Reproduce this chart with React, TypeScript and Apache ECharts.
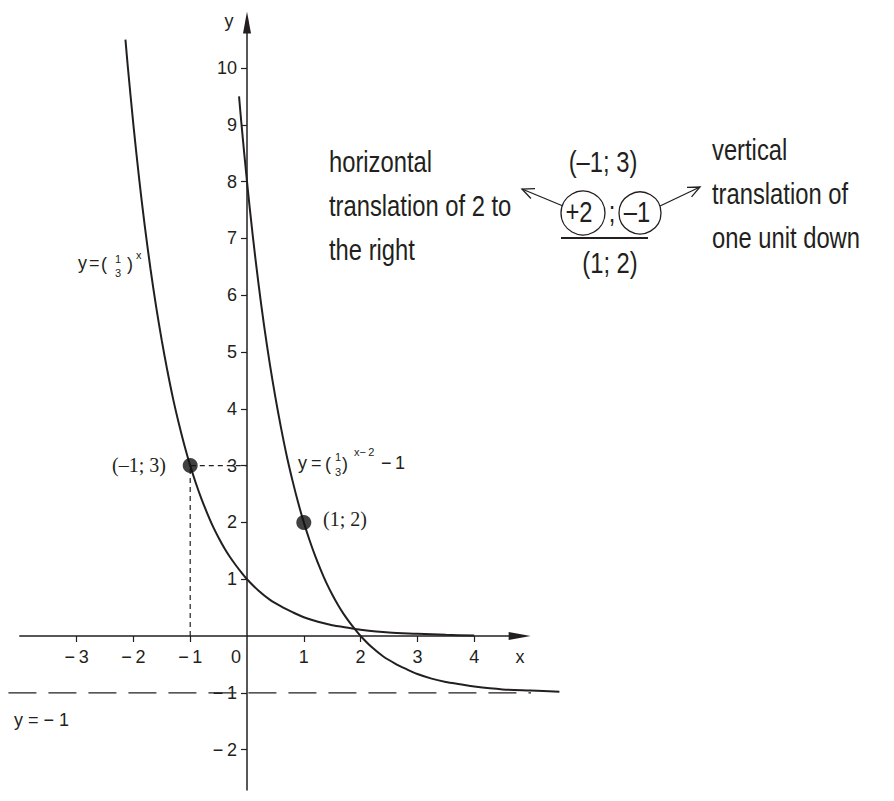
import React, { useEffect, useRef } from 'react';
import * as echarts from 'echarts';

// Tick positions on both axes
const X_TICKS = [-3, -2, -1, 0, 1, 2, 3, 4];
const Y_TICKS = [-2, -1, 1, 2, 3, 4, 5, 6, 7, 8, 9, 10];

// y = (1/3)^x
const BASE_CURVE: [number, number][] = [
  [-2.14, 10.5], [-2.1, 10.04], [-2, 9.0], [-1.9, 8.06], [-1.8, 7.22], [-1.7, 6.47],
  [-1.6, 5.8], [-1.5, 5.2], [-1.4, 4.66], [-1.3, 4.17], [-1.2, 3.74], [-1.1, 3.35],
  [-1, 3.0], [-0.9, 2.69], [-0.8, 2.41], [-0.7, 2.16], [-0.6, 1.93], [-0.5, 1.73],
  [-0.4, 1.55], [-0.3, 1.39], [-0.2, 1.25], [-0.1, 1.12], [0, 1.0], [0.2, 0.8],
  [0.4, 0.64], [0.6, 0.52], [0.8, 0.42], [1, 0.33], [1.25, 0.25], [1.5, 0.19],
  [1.75, 0.15], [2, 0.11], [2.5, 0.06], [3, 0.04], [3.5, 0.02], [4, 0.01],
];

// y = (1/3)^(x-2) - 1
const SHIFTED_CURVE: [number, number][] = [
  [-0.14, 9.5], [-0.1, 9.04], [0, 8.0], [0.1, 7.06], [0.2, 6.22], [0.3, 5.47],
  [0.4, 4.8], [0.5, 4.2], [0.6, 3.66], [0.7, 3.17], [0.8, 2.74], [0.9, 2.35],
  [1, 2.0], [1.1, 1.69], [1.2, 1.41], [1.3, 1.16], [1.4, 0.93], [1.5, 0.73],
  [1.6, 0.55], [1.7, 0.39], [1.8, 0.25], [1.9, 0.12], [2, 0.0], [2.2, -0.2],
  [2.4, -0.36], [2.6, -0.48], [2.8, -0.58], [3, -0.67], [3.25, -0.75], [3.5, -0.81],
  [3.75, -0.85], [4, -0.89], [4.5, -0.94], [5, -0.96], [5.5, -0.98],
];

// Marked points and their projections onto the axes
const MARKED_POINTS: [number, number][] = [[-1, 3], [1, 2]];
const PROJECTION: [number, number][] = [[-1, 0], [-1, 3], [0, 3]];

// Horizontal asymptote y = -1
const ASYMPTOTE: [number, number][] = [[-4.2, -1], [5.0, -1]];

// Visible axis ranges
const X_MIN = -4;
const X_MAX = 4.8;
const Y_MIN = -2.71;
const Y_MAX = 10.8;

// Plotting area for the curves (wider, same scale, no visible axes)
const PX_MIN = -4.3;
const PX_MAX = 5.7;

// Layout: origin position in the page and pixels per unit
const ORIGIN_X = 247;
const ORIGIN_Y = 636;
const UNIT = 56.8;

const INK = '#231f20';
const SANS = "'Liberation Sans', Arial, Helvetica, sans-serif";
const SERIF = "'Liberation Serif', 'Times New Roman', serif";
// narrow lettering: regular sans squeezed horizontally
const NARROW_SCALE = 0.82;

const fmt = (v: number) => (v < 0 ? '\u2212\u2009' + Math.abs(v) : String(v));

function txt(
  text: string,
  x: number,
  y: number,
  font: string,
  align: 'left' | 'center' | 'right' = 'left',
  scaleX = 1
) {
  return {
    type: 'text',
    x,
    y,
    scaleX,
    z: 20,
    style: { text, font, fill: INK, textAlign: align, textVerticalAlign: 'middle' },
  };
}

function arrow(x1: number, y1: number, x2: number, y2: number) {
  const ang = Math.atan2(y2 - y1, x2 - x1);
  const len = 13;
  const spread = 0.42;
  const a = ang + Math.PI - spread;
  const b = ang + Math.PI + spread;
  return [
    {
      type: 'line',
      z: 20,
      shape: { x1, y1, x2, y2 },
      style: { stroke: INK, lineWidth: 1.3 },
    },
    {
      type: 'polyline',
      z: 20,
      shape: {
        points: [
          [x2 + len * Math.cos(a), y2 + len * Math.sin(a)],
          [x2, y2],
          [x2 + len * Math.cos(b), y2 + len * Math.sin(b)],
        ],
      },
      style: { stroke: INK, lineWidth: 1.3, fill: 'none' },
    },
  ];
}

function gridBox(xMin: number, xMax: number, yMin: number, yMax: number) {
  return {
    left: ORIGIN_X + xMin * UNIT,
    top: ORIGIN_Y - yMax * UNIT,
    width: (xMax - xMin) * UNIT,
    height: (yMax - yMin) * UNIT,
    containLabel: false,
    outerBoundsMode: 'none',
  };
}

export default function App() {
  const ref = useRef<HTMLDivElement>(null);

  useEffect(() => {
    if (!ref.current) return;
    const chart = echarts.init(ref.current, null, { renderer: 'svg' });

    const big = `29px ${SANS}`;
    const mainF = `18px ${SANS}`;
    const smallF = `11px ${SANS}`;
    const n = (text: string, x: number, y: number, align: 'left' | 'center' | 'right' = 'left') =>
      txt(text, x, y, big, align, NARROW_SCALE);

    const graphic: any[] = [
      // axis names
      txt('x', 520, 657, mainF, 'center'),
      txt('y', 229, 21, mainF, 'center'),
      txt('y = \u2212 1', 14, 720, mainF),

      // y = (1/3)^x
      txt('y', 78, 263, mainF),
      txt('=', 89, 263, mainF),
      txt('(', 101, 264, mainF),
      txt('1', 118, 259, smallF, 'center'),
      txt('3', 118, 273, smallF, 'center'),
      txt(')', 127, 264, mainF),
      txt('x', 136, 255, smallF),

      // y = (1/3)^(x-2) - 1
      txt('y', 298, 463, mainF),
      txt('=', 311, 463, mainF),
      txt('(', 325, 464, mainF),
      txt('1', 338, 457, smallF, 'center'),
      txt('3', 338, 472, smallF, 'center'),
      txt(')', 342, 464, mainF),
      txt('x\u2212\u20092', 354, 452, smallF),
      txt('\u2212\u20091', 381, 463, mainF),

      // point labels
      txt('(\u20131; 3)', 166, 465, `20px ${SERIF}`, 'right'),
      txt('(1; 2)', 323, 519, `20px ${SERIF}`),

      // translation note
      n('horizontal', 329, 162),
      n('translation of 2 to', 329, 206),
      n('the right', 329, 250),
      n('(\u20131; 3)', 603, 162, 'center'),
      n('+2', 579, 212, 'center'),
      n(';', 612, 212, 'center'),
      n('\u20131', 637, 212, 'center'),
      n('(1; 2)', 610, 263, 'center'),
      n('vertical', 712, 150),
      n('translation of', 712, 194),
      n('one unit down', 712, 238),
      {
        type: 'circle',
        z: 20,
        shape: { cx: 583, cy: 213, r: 22 },
        style: { fill: 'none', stroke: INK, lineWidth: 1.3 },
      },
      {
        type: 'circle',
        z: 20,
        shape: { cx: 640, cy: 213, r: 21 },
        style: { fill: 'none', stroke: INK, lineWidth: 1.3 },
      },
      {
        type: 'line',
        z: 20,
        shape: { x1: 561, y1: 238, x2: 648, y2: 238 },
        style: { stroke: INK, lineWidth: 2 },
      },
      ...arrow(563, 206, 522, 189),
      ...arrow(660, 206, 700, 187),
    ];

    const curveStyle = { color: INK, width: 2 };
    const onPlot = { xAxisIndex: 1, yAxisIndex: 1 };

    chart.setOption({
      animation: false,
      backgroundColor: '#ffffff',
      textStyle: { fontFamily: SANS },
      grid: [gridBox(X_MIN, X_MAX, Y_MIN, Y_MAX), gridBox(PX_MIN, PX_MAX, Y_MIN, Y_MAX)],
      xAxis: [
        {
          type: 'value',
          gridIndex: 0,
          min: X_MIN,
          max: X_MAX,
          position: 'bottom',
          // move the axis up to y = 0
          offset: Y_MIN * UNIT,
          splitLine: { show: false },
          axisLine: {
            onZero: false,
            lineStyle: { color: INK, width: 1.5 },
            symbol: ['none', 'triangle'],
            symbolSize: [8, 22],
          },
          axisTick: {
            show: true,
            inside: false,
            length: 6,
            customValues: X_TICKS.filter((v) => v !== 0),
            lineStyle: { color: INK, width: 1.2 },
          },
          axisLabel: {
            customValues: X_TICKS,
            margin: 12,
            fontSize: 18,
            fontFamily: SANS,
            color: INK,
            formatter: (v: number) => (v === 0 ? '{o|0}' : fmt(v)),
            rich: {
              o: { fontSize: 18, fontFamily: SANS, color: INK, padding: [0, 22, 0, 0] },
            },
          },
        },
        {
          type: 'value',
          gridIndex: 1,
          min: PX_MIN,
          max: PX_MAX,
          show: false,
        },
      ],
      yAxis: [
        {
          type: 'value',
          gridIndex: 0,
          min: Y_MIN,
          max: Y_MAX,
          position: 'left',
          // move the axis right to x = 0
          offset: X_MIN * UNIT,
          splitLine: { show: false },
          axisLine: {
            onZero: false,
            lineStyle: { color: INK, width: 1.5 },
            symbol: ['none', 'triangle'],
            symbolSize: [8, 22],
          },
          axisTick: {
            show: true,
            inside: false,
            length: 6,
            customValues: Y_TICKS,
            lineStyle: { color: INK, width: 1.2 },
          },
          axisLabel: {
            customValues: Y_TICKS,
            margin: 10,
            fontSize: 18,
            fontFamily: SANS,
            color: INK,
            formatter: (v: number) => fmt(v),
          },
        },
        {
          type: 'value',
          gridIndex: 1,
          min: Y_MIN,
          max: Y_MAX,
          show: false,
        },
      ],
      series: [
        {
          type: 'line',
          ...onPlot,
          data: BASE_CURVE,
          smooth: 0.3,
          showSymbol: false,
          symbol: 'none',
          clip: false,
          lineStyle: curveStyle,
          z: 5,
        },
        {
          type: 'line',
          ...onPlot,
          data: SHIFTED_CURVE,
          smooth: 0.3,
          showSymbol: false,
          symbol: 'none',
          clip: false,
          lineStyle: curveStyle,
          z: 5,
        },
        {
          type: 'line',
          ...onPlot,
          data: ASYMPTOTE,
          showSymbol: false,
          symbol: 'none',
          clip: false,
          lineStyle: { color: INK, width: 1.3, type: [28, 12] },
          z: 3,
        },
        {
          type: 'line',
          ...onPlot,
          data: PROJECTION,
          showSymbol: false,
          symbol: 'none',
          clip: false,
          lineStyle: { color: INK, width: 1.2, type: [5, 4] },
          z: 3,
        },
        {
          type: 'scatter',
          ...onPlot,
          data: MARKED_POINTS,
          symbolSize: 15,
          itemStyle: { color: '#111111' },
          z: 10,
        },
      ],
      graphic,
    });

    return () => chart.dispose();
  }, []);

  return (
    <div
      ref={ref}
      style={{ position: 'fixed', left: 0, top: 0, width: 894, height: 801, background: '#fff' }}
    />
  );
}
